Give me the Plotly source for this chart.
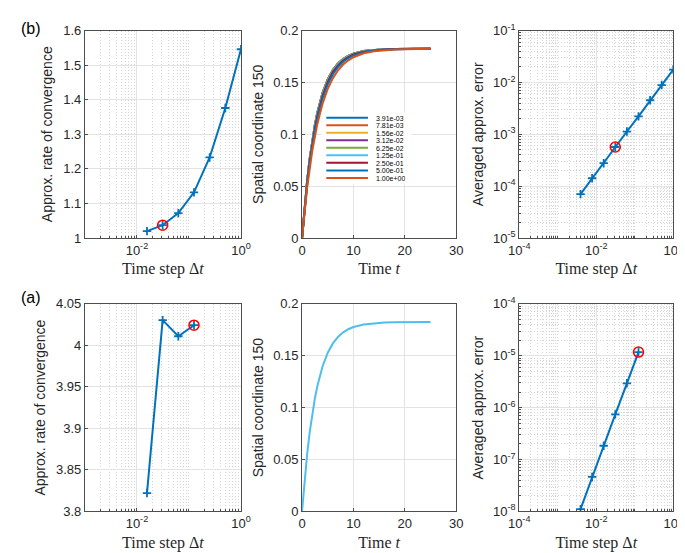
import plotly.graph_objects as go

# ---------------- data ----------------
dt_all = [3.91e-3, 7.81e-3, 1.56e-2, 3.12e-2, 6.25e-2, 1.25e-1, 2.5e-1, 5.0e-1, 1.0]
dt_labels = ["3.91e-03", "7.81e-03", "1.56e-02", "3.12e-02", "6.25e-02",
             "1.25e-01", "2.50e-01", "5.00e-01", "1.00e+00"]

# (b) rate of convergence
rate_b_dt = [1.56e-2, 3.12e-2, 6.25e-2, 1.25e-1, 2.5e-1, 5.0e-1, 1.0]
rate_b = [1.020, 1.037, 1.072, 1.132, 1.233, 1.376, 1.546]
rate_b_mark_dt = [3.12e-2]
rate_b_mark = [1.037]

# (b) averaged error
err_b_dt = [3.91e-3, 7.81e-3, 1.56e-2, 3.12e-2, 6.25e-2, 1.25e-1, 2.5e-1, 5.0e-1, 1.0]
err_b = [7.0e-5, 1.42e-4, 2.77e-4, 5.68e-4, 1.13e-3, 2.21e-3, 4.53e-3, 8.9e-3, 1.77e-2]
err_b_mark_dt = [3.12e-2]
err_b_mark = [5.68e-4]

# (a) rate of convergence
rate_a_dt = [1.56e-2, 3.12e-2, 6.25e-2, 1.25e-1]
rate_a = [3.822, 4.0305, 4.011, 4.0243]
rate_a_mark_dt = [1.25e-1]
rate_a_mark = [4.0243]

# (a) averaged error
err_a_dt = [3.91e-3, 7.81e-3, 1.56e-2, 3.12e-2, 6.25e-2, 1.25e-1]
err_a = [1.1e-8, 4.6e-8, 1.84e-7, 7.4e-7, 2.94e-6, 1.18e-5]
err_a_mark_dt = [1.25e-1]
err_a_mark = [1.18e-5]

# spatial coordinate 150 over time
t_fine = [0, 0.25, 0.5, 0.75, 1, 1.5, 2, 2.5, 3, 4, 5, 6, 7, 8, 9, 10, 12, 14, 16, 18, 20, 22, 25]
y_fine = [0, 0.0159, 0.0303, 0.0436, 0.0556, 0.0767, 0.0943, 0.1090, 0.1212, 0.1399, 0.1529,
          0.1619, 0.1682, 0.1726, 0.1756, 0.1777, 0.1802, 0.1814, 0.1820, 0.1822, 0.1824, 0.1824, 0.1825]
y_0125 = [0, 0.0155, 0.0297, 0.0427, 0.0546, 0.0755, 0.0929, 0.1075, 0.1197, 0.1385, 0.1517,
          0.1609, 0.1674, 0.1719, 0.1751, 0.1773, 0.1799, 0.1813, 0.1819, 0.1822, 0.1824, 0.1824, 0.1825]
y_025 = [0, 0.0152, 0.0291, 0.0419, 0.0536, 0.0742, 0.0915, 0.1060, 0.1182, 0.1371, 0.1505,
         0.1599, 0.1665, 0.1712, 0.1745, 0.1769, 0.1797, 0.1811, 0.1818, 0.1822, 0.1823, 0.1824, 0.1825]
t_half = [0, 0.5, 1, 1.5, 2, 2.5, 3, 4, 5, 6, 7, 8, 9, 10, 12, 14, 16, 18, 20, 22, 25]
y_05 = [0, 0.0281, 0.0518, 0.0719, 0.0889, 0.1033, 0.1155, 0.1345, 0.1482, 0.1579, 0.1649,
        0.1699, 0.1735, 0.1760, 0.1792, 0.1808, 0.1816, 0.1821, 0.1823, 0.1824, 0.1825]
t_unit = [0, 1, 2, 3, 4, 5, 6, 7, 8, 9, 10, 12, 14, 16, 18, 20, 22, 25]
y_1 = [0, 0.0487, 0.0844, 0.1105, 0.1297, 0.1438, 0.1541, 0.1617, 0.1672, 0.1713, 0.1743,
       0.1781, 0.1801, 0.1812, 0.1818, 0.1821, 0.1823, 0.1824]

curve_t = [t_fine, t_fine, t_fine, t_fine, t_fine, t_fine, t_fine, t_half, t_unit]
curve_y = [y_fine, y_fine, y_fine, y_fine, y_fine, y_0125, y_025, y_05, y_1]

t_a = t_fine
y_a = [0, 0.0159, 0.0303, 0.0436, 0.0556, 0.0767, 0.0943, 0.1090, 0.1212, 0.1399, 0.1529,
       0.1619, 0.1682, 0.1726, 0.1756, 0.1777, 0.1802, 0.1814, 0.1820, 0.1822, 0.1824, 0.1824, 0.1825]

colors = ["#0072BD", "#D95319", "#EDB120", "#7E2F8E", "#77AC30",
          "#4DBEEE", "#A2142F", "#0072BD", "#D95319"]

# ---------------- styling ----------------
W, H = 685, 553
BLUE = "#0072BD"
RED = "#ff0000"
AXC = "#4d4d4d"
TXT = "#262626"
GRID = "#e3e3e3"
MGRID = "#d6d6d6"
TICKF = dict(family="Liberation Sans, Arial, sans-serif", size=13, color=TXT)
YTF = dict(family="Liberation Sans, Arial, sans-serif", size=14, color=TXT)
XTF = dict(family="Liberation Serif, Times New Roman, serif", size=16, color=TXT)

colx = [[68 / W, 229 / W], [292 / W, 451 / W], [516 / W, 675 / W]]
rowy = [[1 - 228 / H, 1 - 14 / H], [1 - 510 / H, 1 - 296 / H]]


def base_axis(domain, anchor):
    return dict(domain=domain, anchor=anchor, showline=True, mirror=True, linecolor=AXC,
                linewidth=1, ticks="inside", ticklen=3, tickcolor=AXC, tickfont=TICKF,
                showgrid=True, gridcolor=GRID, gridwidth=1, zeroline=False)


def sup(e):
    return "10<sup>%d</sup>" % e


fig = go.Figure()


def add_conv(xa, ya, xs, ys, mx, my):
    fig.add_trace(go.Scatter(x=xs, y=ys, mode="lines+markers", xaxis=xa, yaxis=ya,
                             line=dict(color=BLUE, width=2),
                             marker=dict(symbol="cross-thin", size=6, color=BLUE,
                                         line=dict(color=BLUE, width=1.8)),
                             showlegend=False))
    fig.add_trace(go.Scatter(x=mx, y=my, mode="markers", xaxis=xa, yaxis=ya,
                             marker=dict(symbol="circle-open", size=10, color=RED,
                                         line=dict(color=RED, width=1.6)),
                             showlegend=False))


add_conv("x", "y", rate_b_dt, rate_b, rate_b_mark_dt, rate_b_mark)
add_conv("x3", "y3", err_b_dt, err_b, err_b_mark_dt, err_b_mark)
add_conv("x4", "y4", rate_a_dt, rate_a, rate_a_mark_dt, rate_a_mark)
add_conv("x6", "y6", err_a_dt, err_a, err_a_mark_dt, err_a_mark)

for lab, tt, yy, c in zip(dt_labels, curve_t, curve_y, colors):
    fig.add_trace(go.Scatter(x=tt, y=yy, mode="lines", name=lab, xaxis="x2", yaxis="y2",
                             line=dict(color=c, width=2), showlegend=False))

fig.add_trace(go.Scatter(x=t_a, y=y_a, mode="lines", xaxis="x5", yaxis="y5",
                         line=dict(color="#4DBEEE", width=2), showlegend=False))

minor_log = dict(dtick="D1", ticks="inside", ticklen=2, tickcolor=AXC,
                 showgrid=True, gridcolor=MGRID, griddash="1px,2px", gridwidth=1)

xt_time = dict(text="Time step Δ<i>t</i>", font=XTF, standoff=6)
xt_t = dict(text="Time <i>t</i>", font=XTF, standoff=6)

layout = dict(width=W, height=H, margin=dict(l=0, r=0, t=0, b=0),
              paper_bgcolor="white", plot_bgcolor="white", showlegend=False)

# left column: log x, linear y
for i, (xk, yk, yr, yv) in enumerate([
        ("xaxis", "yaxis", [1, 1.6], [1, 1.1, 1.2, 1.3, 1.4, 1.5, 1.6]),
        ("xaxis4", "yaxis4", [3.8, 4.05], [3.8, 3.85, 3.9, 3.95, 4.0, 4.05])]):
    anchor_x = "y" if i == 0 else "y4"
    anchor_y = "x" if i == 0 else "x4"
    xa = base_axis(colx[0], anchor_x)
    xa.update(type="log", range=[-3, 0], tickmode="array", tickvals=[1e-2, 1],
              ticktext=[sup(-2), sup(0)], minor=minor_log, title=xt_time)
    ya = base_axis(rowy[i], anchor_y)
    ya.update(range=yr, tickmode="array", tickvals=yv,
              ticktext=[("%g" % v) for v in yv],
              title=dict(text="Approx. rate of convergence", font=YTF, standoff=7))
    layout[xk] = xa
    layout[yk] = ya

# middle column
for i, (xk, yk) in enumerate([("xaxis2", "yaxis2"), ("xaxis5", "yaxis5")]):
    ax = "x2" if i == 0 else "x5"
    ay = "y2" if i == 0 else "y5"
    xa = base_axis(colx[1], ay)
    xa.update(range=[0, 30], tickmode="array", tickvals=[0, 10, 20, 30], title=xt_t)
    ya = base_axis(rowy[i], ax)
    ya.update(range=[0, 0.2], tickmode="array", tickvals=[0, 0.05, 0.1, 0.15, 0.2],
              ticktext=["0", "0.05", "0.1", "0.15", "0.2"],
              title=dict(text="Spatial coordinate 150", font=YTF, standoff=6))
    layout[xk] = xa
    layout[yk] = ya

# right column: log-log
for i, (xk, yk, yr) in enumerate([("xaxis3", "yaxis3", [-5, -1]), ("xaxis6", "yaxis6", [-8, -4])]):
    ax = "x3" if i == 0 else "x6"
    ay = "y3" if i == 0 else "y6"
    xa = base_axis(colx[2], ay)
    xa.update(type="log", range=[-4, 0], tickmode="array", tickvals=[1e-4, 1e-2, 1],
              ticktext=[sup(-4), sup(-2), sup(0)], minor=minor_log, title=xt_time)
    ye = list(range(yr[0], yr[1] + 1))
    ya = base_axis(rowy[i], ax)
    ya.update(type="log", range=yr, tickmode="array", tickvals=[10.0 ** e for e in ye],
              ticktext=[sup(e) for e in ye], minor=minor_log,
              title=dict(text="Averaged approx. error", font=YTF, standoff=6))
    layout[xk] = xa
    layout[yk] = ya

fig.update_layout(**layout)

# panel labels
for lab, ypx in [("(b)", 12), ("(a)", 289)]:
    fig.add_annotation(text=lab, x=0, y=1 - ypx / H, xref="paper", yref="paper",
                       xanchor="left", yanchor="middle", showarrow=False,
                       font=dict(family="Liberation Sans, Arial, sans-serif", size=16, color="#000"))

# legend (drawn inside the middle-top panel)
fig.add_shape(type="rect", xref="paper", yref="paper", x0=312 / W, x1=405 / W,
              y0=1 - 172 / H, y1=1 - 98 / H, fillcolor="white", line=dict(width=0), layer="above")
for k, (lab, c) in enumerate(zip(dt_labels, colors)):
    yk = 1 - (104 + 7.75 * k) / H
    fig.add_shape(type="line", xref="paper", yref="paper", x0=317 / W, x1=360 / W,
                  y0=yk, y1=yk, line=dict(color=c, width=2), layer="above")
    fig.add_annotation(text=lab, x=366 / W, y=yk, xref="paper", yref="paper",
                       xanchor="left", yanchor="middle", showarrow=False, height=8,
                       font=dict(family="Liberation Sans, Arial, sans-serif", size=7, color="#000"))

fig.write_html("out.html")
